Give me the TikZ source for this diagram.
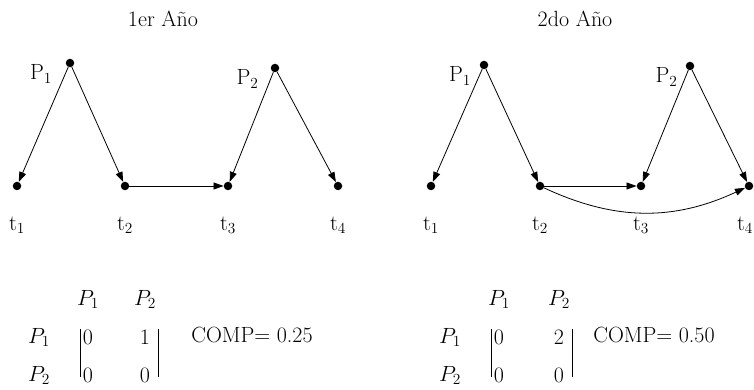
\documentclass[tikz,border=0pt]{standalone}
\usepackage{fix-cm}
\usetikzlibrary{arrows.meta,positioning,matrix}
\tikzset{
  dot/.style={circle,fill=black,inner sep=0pt,minimum size=8.5pt},
  arrow/.style={-{Triangle[length=10pt,width=7pt]},line width=0.8pt},
  bar/.style={line width=0.8pt},
  adjmat/.style={matrix of math nodes,nodes={minimum width=29pt,minimum height=25pt,inner sep=2pt,anchor=center},column sep=20pt,row sep=13pt}
}

\begin{document}
\begin{tikzpicture}[x=1pt,y=1pt,font=\fontsize{22}{26}\selectfont]
\useasboundingbox (0,0) rectangle (754,390);
% 1er año
\node (a-title) at (163,371) {1er Año};
\node[dot] (a-p1) at (70,327) {};
\node[dot] (a-p2) at (275,322) {};
\node[left=10pt of a-p1,yshift=-11pt] (a-lp1) {$\mathrm{P}_1$};
\node[left=8.5pt of a-p2,yshift=-11pt] (a-lp2) {$\mathrm{P}_2$};
\foreach \i/\x in {1/17,2/125,3/228,4/338}{
  \node[dot] (a-t\i) at (\x,204) {};
  \node[below=23pt of a-t\i] (a-lt\i) {$\mathrm{t}_\i$};
}
\draw[arrow] (a-p1) -- (a-t1);
\draw[arrow] (a-p1) -- (a-t2);
\draw[arrow] (a-t2) -- (a-t3);
\draw[arrow] (a-p2) -- (a-t3);
\draw[arrow] (a-p2) -- (a-t4);
\matrix[adjmat] (a-m) at (92,52.5) {
      & P_1 &[8pt] P_2 \\
  P_1 & 0   & 1 \\
  P_2 & 0   & 0 \\
};
\draw[bar] ([xshift=-8pt,yshift=8pt]a-m-2-2.center) -- ([xshift=-8pt,yshift=-2pt]a-m-3-2.center);
\draw[bar] ([xshift=13pt,yshift=8pt]a-m-2-3.center) -- ([xshift=13pt,yshift=-2pt]a-m-3-3.center);
\node (a-comp) at (252,55) {COMP$=$ 0.25};
% 2do año
\node (b-title) at (575,371) {2do Año};
\node[dot] (b-p1) at (484,325) {};
\node[dot] (b-p2) at (690,324) {};
\node[left=5pt of b-p1,yshift=-11pt] (b-lp1) {$\mathrm{P}_1$};
\node[left=4.5pt of b-p2,yshift=-11pt] (b-lp2) {$\mathrm{P}_2$};
\foreach \i/\x in {1/431,2/540,3/641,4/749}{
  \node[dot] (b-t\i) at (\x,204) {};
}
\foreach \i in {1,2,3}
  \node[below=23pt of b-t\i] (b-lt\i) {$\mathrm{t}_\i$};
\node[below=23pt of b-t4,xshift=-4pt] (b-lt4) {$\mathrm{t}_4$};
\draw[arrow] (b-p1) -- (b-t1);
\draw[arrow] (b-p1) -- (b-t2);
\draw[arrow] (b-t2) -- (b-t3);
\draw[arrow] (b-t2) to[bend right=25] (b-t4);
\draw[arrow] (b-p2) -- (b-t3);
\draw[arrow] (b-p2) -- (b-t4);
\matrix[adjmat] (b-m) at (504.5,52.5) {
      & P_1 &[11pt] P_2 \\
  P_1 & 0   & 2 \\
  P_2 & 0   & 0 \\
};
\draw[bar] ([xshift=-8pt,yshift=8pt]b-m-2-2.center) -- ([xshift=-8pt,yshift=-2pt]b-m-3-2.center);
\draw[bar] ([xshift=13pt,yshift=8pt]b-m-2-3.center) -- ([xshift=13pt,yshift=-2pt]b-m-3-3.center);
\node (b-comp) at (654,55) {COMP$=$ 0.50};
\end{tikzpicture}
\end{document}
